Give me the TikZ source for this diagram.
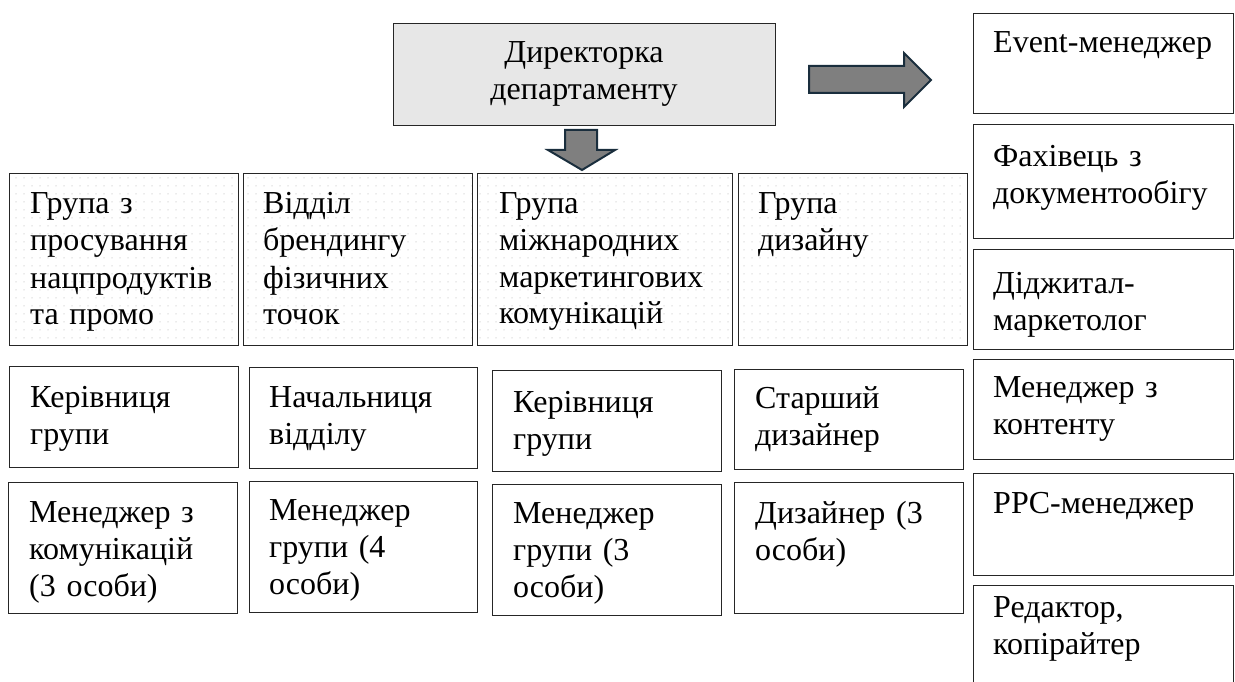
\documentclass[tikz,border=0pt]{standalone}
\usepackage{fontspec}
\setmainfont{Liberation Serif}
\usetikzlibrary{patterns.meta,calc}

\definecolor{framec}{HTML}{262626}
\definecolor{headfill}{HTML}{E7E7E7}
\definecolor{arrowfill}{HTML}{7F7F7F}
\definecolor{arrowline}{HTML}{1A2E3D}
\definecolor{dotc}{HTML}{D6D6D6}

\tikzset{
  box/.style={draw=framec, line width=1.1pt, anchor=north west, inner sep=0pt},
  dotbox/.style={box, pattern={Dots[distance=8pt, radius=0.75pt]}, pattern color=dotc},
  txt/.style={anchor=base west, inner sep=0pt, align=left, text width=230pt,
              font=\fontsize{32}{37}\selectfont},
  blockarrow/.style={fill=arrowfill, draw=arrowline, line width=2pt, line join=miter},
}

\newcommand{\boxat}[6]{% name, style, x1, y1, x2, y2
  \node[#2, minimum width={(#5)-(#3)}, minimum height={(#6)-(#4)}] (#1) at (#3,#4) {};}

\begin{document}
\begin{tikzpicture}[x=1pt,y=-1pt]
\useasboundingbox (0,0) rectangle (1235,682);

% department head
\node[box, fill=headfill, minimum width=382pt, minimum height=102pt] (head) at (393,23) {};
\node[anchor=base, inner sep=0pt, align=center, text width=360pt,
      font=\fontsize{32}{37}\selectfont] (headt) at (584,63) {Директорка\\департаменту};

% block arrows
\draw[blockarrow] (809,66) -- (904,66) -- (904,53) -- (931,80) -- (904,107) -- (904,93) -- (809,93) -- cycle;
\draw[blockarrow] (565,130) -- (597,130) -- (597,150) -- (615,150) -- (582,170) -- (548,150) -- (565,150) -- cycle;

% groups
\boxat{g1}{dotbox}{9}{173}{238}{345}
\boxat{g2}{dotbox}{243}{173}{472}{345}
\boxat{g3}{dotbox}{477}{173}{732}{345}
\boxat{g4}{dotbox}{738}{173}{967}{345}
\node[txt] (g1t) at (30,214) {Група з\\просування\\нацпродуктів\\та промо};
\node[txt] (g2t) at (263,214) {Відділ\\брендингу\\фізичних\\точок};
\node[txt] (g3t) at (499,213) {Група\\міжнародних\\маркетингових\\комунікацій};
\node[txt] (g4t) at (758,213) {Група\\дизайну};

% leads
\boxat{l1}{box}{9}{366}{238}{467}
\boxat{l2}{box}{249}{367}{477}{468}
\boxat{l3}{box}{492}{370}{721}{471}
\boxat{l4}{box}{734}{369}{963}{469}
\node[txt] (l1t) at (30,407) {Керівниця\\групи};
\node[txt] (l2t) at (269,407) {Начальниця\\відділу};
\node[txt] (l3t) at (513,412) {Керівниця\\групи};
\node[txt] (l4t) at (755,408) {Старший\\дизайнер};

% staff
\boxat{s1}{box}{8}{482}{237}{613}
\boxat{s2}{box}{249}{481}{477}{612}
\boxat{s3}{box}{492}{484}{721}{615}
\boxat{s4}{box}{734}{482}{963}{613}
\node[txt] (s1t) at (29,522) {Менеджер з\\комунікацій\\(3 особи)};
\node[txt] (s2t) at (269,520) {Менеджер\\групи (4\\особи)};
\node[txt] (s3t) at (513,523) {Менеджер\\групи (3\\особи)};
\node[txt] (s4t) at (755,523) {Дизайнер (3\\особи)};

% direct reports
\boxat{r1}{box}{973}{13}{1233}{113}
\boxat{r2}{box}{973}{124}{1233}{238}
\boxat{r3}{box}{973}{249}{1233}{349}
\boxat{r4}{box}{973}{359}{1233}{459}
\boxat{r5}{box}{973}{473}{1233}{575}
\boxat{r6}{box}{973}{585}{1233}{700}
\node[txt] (r1t) at (993,53) {Event-менеджер};
\node[txt] (r2t) at (993,167) {Фахівець з\\документообігу};
\node[txt] (r3t) at (993,293) {Діджитал-\\маркетолог};
\node[txt] (r4t) at (993,397) {Менеджер з\\контенту};
\node[txt] (r5t) at (993,513) {PPC-менеджер};
\node[txt] (r6t) at (993,617) {Редактор,\\копірайтер};
\end{tikzpicture}
\end{document}
